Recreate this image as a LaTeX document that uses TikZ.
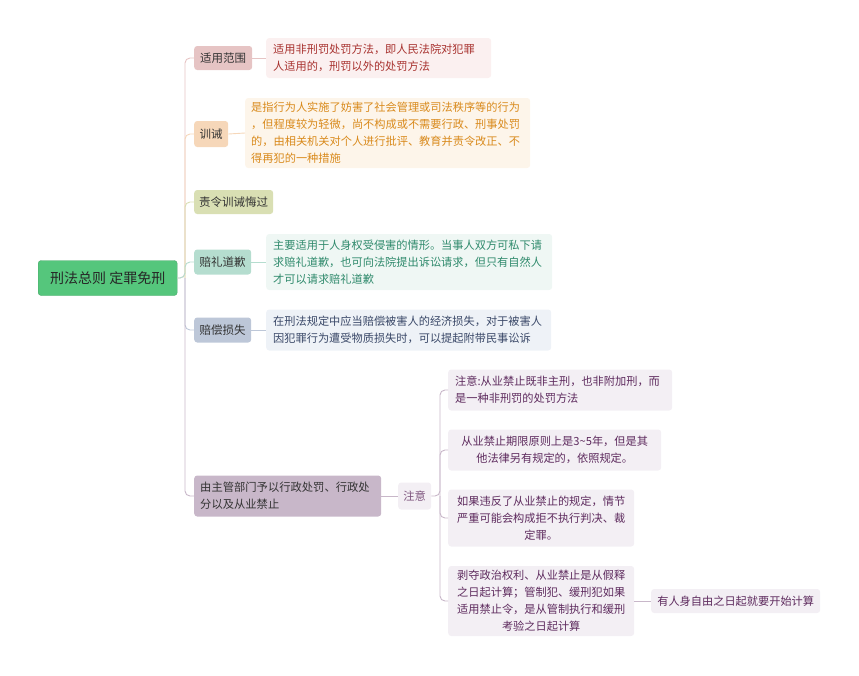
\documentclass[tikz,border=0pt]{standalone}
\usepackage{fontspec}
\setmainfont{Noto Sans CJK SC}
\begin{document}
\begin{tikzpicture}[x=1pt,y=-1pt,
  box/.style={rectangle,rounded corners=3pt,inner sep=0pt,anchor=west},
  lvone/.style={box,font=\fontsize{11.5}{16}\selectfont,text=black!80},
  leaf/.style={box,inner xsep=7pt,font=\fontsize{11.2}{17}\selectfont,align=left},
  leafc/.style={box,inner xsep=7pt,font=\fontsize{11.2}{17}\selectfont,align=center},
  conn/.style={line width=0.9pt,rounded corners=5pt}]
\useasboundingbox (0,0) rectangle (859,675);
\definecolor{rootg}{HTML}{55C67C}
\definecolor{ca}{HTML}{E6C4C4}
\definecolor{cb}{HTML}{F6D7B9}
\definecolor{cc}{HTML}{D9DFB3}
\definecolor{cd}{HTML}{B5DDCF}
\definecolor{ce}{HTML}{BDC7D8}
\definecolor{cf}{HTML}{C8B7C9}
\definecolor{la}{HTML}{FBF0F0}
\definecolor{lb}{HTML}{FDF5EA}
\definecolor{ld}{HTML}{EFF7F4}
\definecolor{le}{HTML}{EEF2F7}
\definecolor{lf}{HTML}{F3EFF4}
\definecolor{ta}{HTML}{A8322F}
\definecolor{tb}{HTML}{D98A1C}
\definecolor{td}{HTML}{2F8A6C}
\definecolor{te}{HTML}{3A4868}
\definecolor{tf}{HTML}{5E2B5E}

% root
\node[box,fill=rootg,draw=rootg!85!black,line width=0.4pt,minimum width=139pt,minimum height=35pt,font=\fontsize{14}{16}\selectfont,text=black!85] (r) at (38,278) {刑法总则 定罪免刑};

% level one
\node[lvone,fill=ca,minimum width=58pt,minimum height=24pt] (c1) at (194,58) {适用范围};
\node[lvone,fill=cb,minimum width=34pt,minimum height=26pt] (c2) at (194,134) {训诫};
\node[lvone,fill=cc,minimum width=79pt,minimum height=24pt] (c3) at (194,202) {责令训诫悔过};
\node[lvone,fill=cd,minimum width=57pt,minimum height=25pt] (c4) at (194,262) {赔礼道歉};
\node[lvone,fill=ce,minimum width=57pt,minimum height=25pt] (c5) at (194,330) {赔偿损失};
\node[lvone,inner xsep=6pt,text width=175pt,align=left,fill=cf,minimum height=41pt,font=\fontsize{11.3}{17}\selectfont] (c6) at (194,496) {由主管部门予以行政处罚、行政处\\分以及从业禁止};

% leaves
\node[leaf,fill=la,text=ta,text width=211pt,minimum height=40pt] (l1) at (266,58) {适用非刑罚处罚方法，即人民法院对犯罪\\人适用的，刑罚以外的处罚方法};
\node[leaf,inner xsep=6pt,fill=lb,text=tb,text width=273pt,minimum height=70pt] (l2) at (245,133) {是指行为人实施了妨害了社会管理或司法秩序等的行为\\，但程度较为轻微，尚不构成或不需要行政、刑事处罚\\的，由相关机关对个人进行批评、教育并责令改正、不\\得再犯的一种措施};
\node[leaf,fill=ld,text=td,text width=272pt,minimum height=56pt] (l4) at (266,262) {主要适用于人身权受侵害的情形。当事人双方可私下请\\求赔礼道歉，也可向法院提出诉讼请求，但只有自然人\\才可以请求赔礼道歉};
\node[leaf,fill=le,text=te,text width=271pt,minimum height=41pt] (l5) at (266,330) {在刑法规定中应当赔偿被害人的经济损失，对于被害人\\因犯罪行为遭受物质损失时，可以提起附带民事讼诉};

% 注意 branch
\node[box,fill=lf,text=tf!80,minimum width=33pt,minimum height=27pt,font=\fontsize{11.3}{16}\selectfont] (z) at (398,496) {注意};
\node[leaf,fill=lf,text=tf,text width=210pt,minimum height=41pt] (z1) at (448,390) {注意:从业禁止既非主刑，也非附加刑，而\\是一种非刑罚的处罚方法};
\node[leafc,fill=lf,text=tf,text width=199pt,minimum height=41pt] (z2) at (448,450) {从业禁止期限原则上是3\textasciitilde5年，但是其\\他法律另有规定的，依照规定。};
\node[leafc,fill=lf,text=tf,text width=172pt,minimum height=57pt] (z3) at (448,518) {如果违反了从业禁止的规定，情节\\严重可能会构成拒不执行判决、裁\\定罪。};
\node[leafc,fill=lf,text=tf,text width=172pt,minimum height=70pt] (z4) at (448,601) {剥夺政治权利、从业禁止是从假释\\之日起计算；管制犯、缓刑犯如果\\适用禁止令，是从管制执行和缓刑\\考验之日起计算};
\node[box,fill=lf,text=tf,minimum width=169pt,minimum height=24pt,font=\fontsize{11.2}{16}\selectfont] (z5) at (651,601) {有人身自由之日起就要开始计算};

% connectors
\coordinate (tr) at (185,278);
\draw[conn,draw=ca] (r.east) -- (tr) |- (c1.west);
\draw[conn,draw=cb] (tr) |- (c2.west);
\draw[conn,draw=cc] (tr) |- (c3.west);
\draw[conn,draw=cd] (r.east) -- (tr) |- (c4.west);
\draw[conn,draw=ce] (tr) |- (c5.west);
\draw[conn,draw=cf] (tr) |- (c6.west);
\draw[conn,draw=ca] (c1.east) -- (l1.west);
\draw[conn,draw=cb] (c2.east) -- (l2.west);
\draw[conn,draw=cd] (c4.east) -- (l4.west);
\draw[conn,draw=ce] (c5.east) -- (l5.west);
\draw[conn,draw=cf] (c6.east) -- (z.west);
\coordinate (zb) at (440,496);
\draw[conn,draw=cf] (z.east) -- (zb) |- (z1.west);
\draw[conn,draw=cf] (zb) |- (z2.west);
\draw[conn,draw=cf] (zb) |- (z3.west);
\draw[conn,draw=cf] (zb) |- (z4.west);
\draw[conn,draw=cf] (z4.east) -- (z5.west);
\end{tikzpicture}
\end{document}
